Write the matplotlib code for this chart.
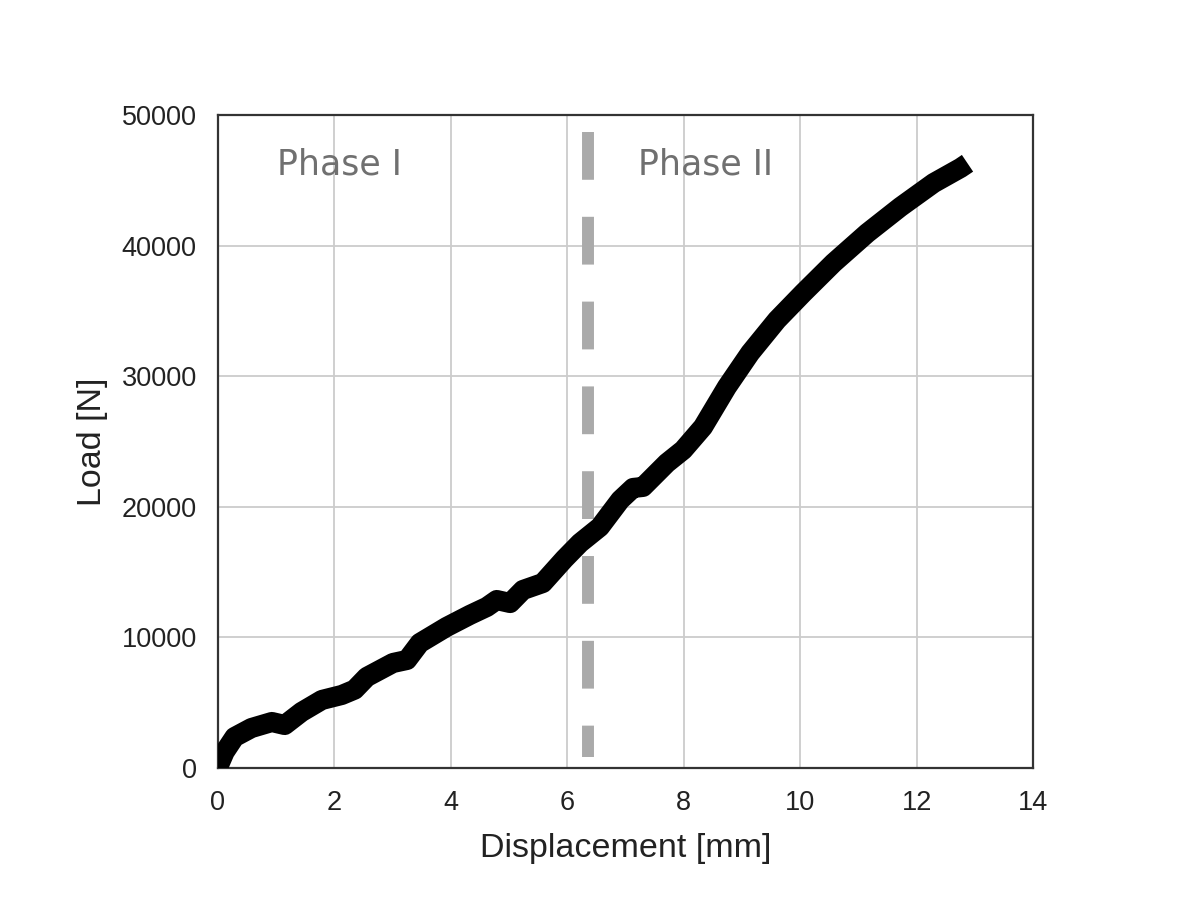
import matplotlib.pyplot as plt

# Load-displacement curve
displacement = [0.0, 0.03, 0.12, 0.29, 0.58, 0.93, 1.15, 1.44, 1.79, 2.13, 2.35,
                2.56, 3.01, 3.25, 3.47, 3.93, 4.33, 4.62, 4.79, 5.02, 5.24, 5.58,
                5.95, 6.22, 6.56, 6.91, 7.13, 7.30, 7.71, 7.99, 8.33, 8.74, 9.14,
                9.60, 10.05, 10.57, 11.15, 11.72, 12.29, 12.75, 12.87]
load = [0, 300, 1230, 2370, 3060, 3520, 3290, 4290, 5210, 5590, 6000,
        6970, 8040, 8270, 9570, 10800, 11720, 12330, 12860, 12630, 13630, 14160,
        16000, 17230, 18450, 20520, 21440, 21520, 23350, 24350, 26110, 29170, 31780,
        34300, 36370, 38670, 40960, 42960, 44790, 45940, 46300]

phase_boundary = 6.36
phase_line_y = [48700, 840]
phase_labels = ['Phase I', 'Phase II']
phase_label_x = [1.01, 7.22]
phase_label_y = 46200

plt.rcParams['font.family'] = ['Liberation Sans', 'DejaVu Sans']

fig = plt.figure(figsize=(11.96, 9.16), dpi=100)
ax = fig.add_axes([0.182, 0.1616, 0.682, 0.7129])

ax.plot(displacement, load, color='black', linewidth=14.5, solid_capstyle='butt',
        solid_joinstyle='round', zorder=3)
ax.plot([phase_boundary, phase_boundary], phase_line_y, color='#aaaaaa', linewidth=8.6,
        dashes=(4.0, 3.1), dash_capstyle='butt', zorder=2)

for label, x in zip(phase_labels, phase_label_x):
    ax.text(x, phase_label_y, label, family='DejaVu Sans', fontsize=25, color='#707070',
            ha='left', va='center', zorder=4)

ax.set_xlim(0, 14)
ax.set_ylim(0, 50000)
ax.set_xticks(range(0, 15, 2))
ax.set_yticks(range(0, 50001, 10000))
ax.grid(True, color='#cccccc', linewidth=1.3)
ax.set_axisbelow(True)
ax.tick_params(length=0, labelsize=19.5, colors='#222222')
ax.tick_params(axis='x', pad=16)
ax.tick_params(axis='y', pad=15)
for s in ax.spines.values():
    s.set_color('#333333')
    s.set_linewidth(1.6)

ax.set_xlabel('Displacement [mm]', fontsize=24.5, color='#222222', labelpad=12)
ax.set_ylabel('Load [N]', fontsize=24.5, color='#222222', labelpad=10)

fig.savefig('out.png', dpi=100)
